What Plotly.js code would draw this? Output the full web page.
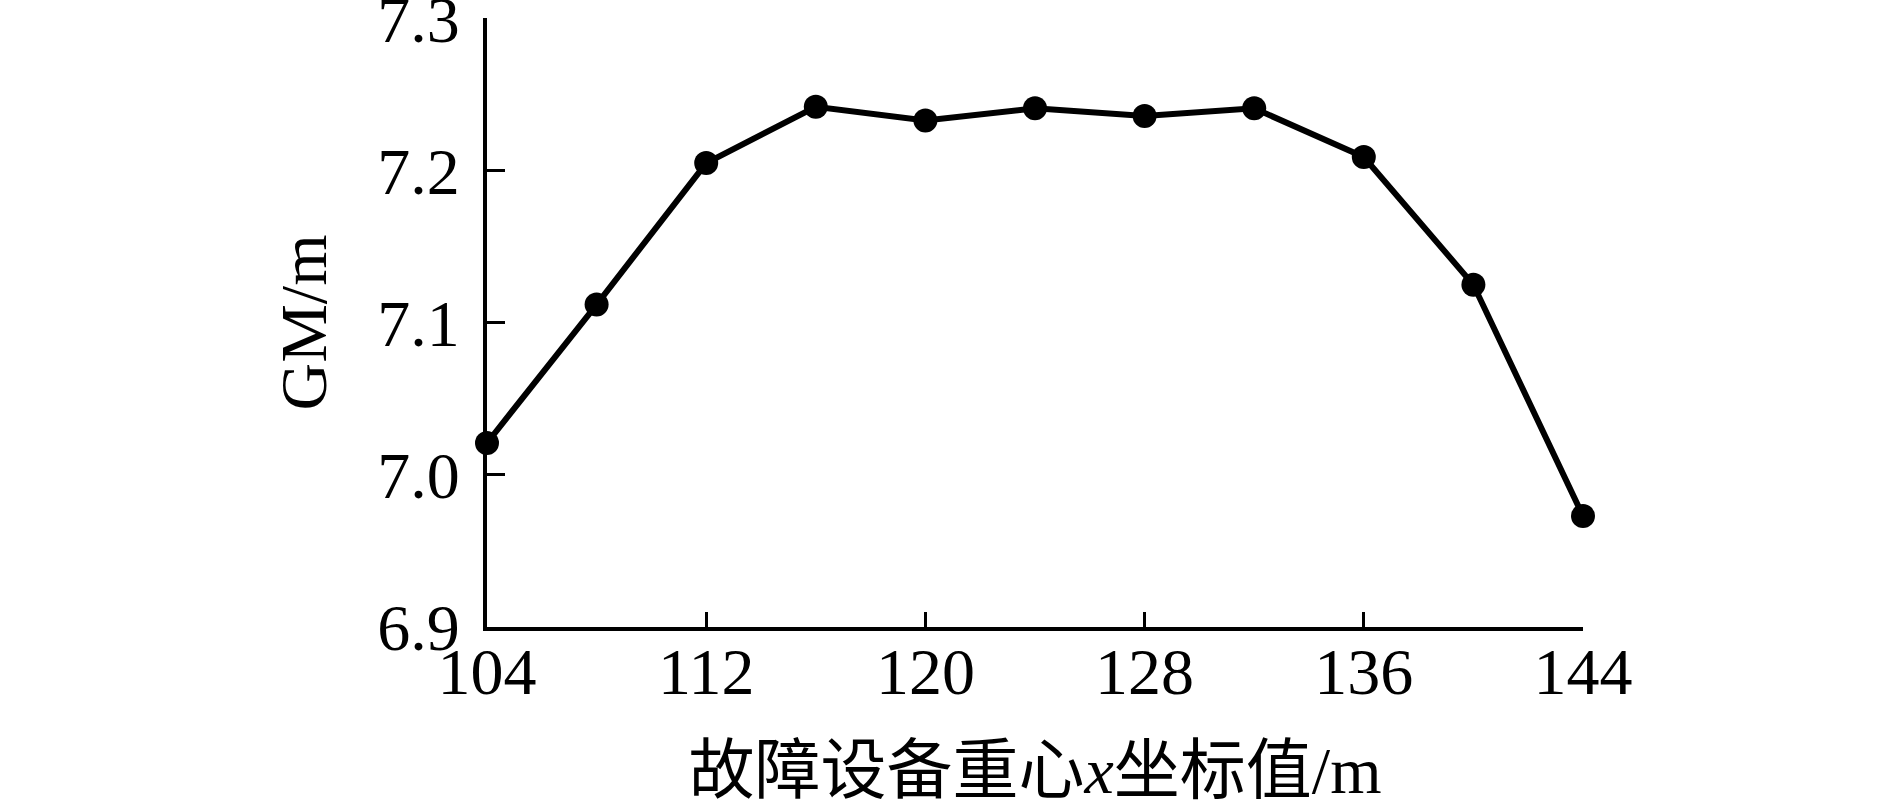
<!DOCTYPE html>
<html>
<head>
<meta charset="utf-8">
<script src="https://cdn.plot.ly/plotly-3.0.1.min.js"></script>
<style>
  html, body { margin: 0; padding: 0; background: #fff; }
  #chart { width: 1890px; height: 807px; }
</style>
</head>
<body>
<div id="chart"></div>
<script>
// x position of the faulty equipment's centre of gravity (m) and GM (m)
const xPos = [104, 108, 112, 116, 120, 124, 128, 132, 136, 140, 144];
const gmValues = [7.021, 7.112, 7.205, 7.242, 7.233, 7.241, 7.236, 7.241, 7.209, 7.125, 6.973];

const xTicks = [104, 112, 120, 128, 136, 144];
const yTicks = [6.9, 7.0, 7.1, 7.2, 7.3];
const yTickText = ['6.9', '7.0', '7.1', '7.2', '7.3'];

const serif = '"Liberation Serif", "Times New Roman", "Noto Sans CJK SC", serif';

const trace = {
    x: xPos,
    y: gmValues,
    mode: 'lines+markers',
    type: 'scatter',
    line: { color: '#000', width: 6 },
    marker: { color: '#000', size: 24 },
    cliponaxis: false,
    showlegend: false
};

const layout = {
    width: 1890,
    height: 807,
    margin: { l: 487, r: 307, t: 18, b: 180 },
    paper_bgcolor: '#fff',
    plot_bgcolor: '#fff',
    font: { family: serif, color: '#000', size: 66 },
    xaxis: {
        range: [104, 144],
        tickvals: xTicks,
        ticks: 'inside',
        ticklen: 15,
        tickwidth: 3,
        tickcolor: '#000',
        showline: true,
        linewidth: 4,
        linecolor: '#000',
        showgrid: false,
        zeroline: false,
        ticklabelstandoff: -16,
        ticklabeloverflow: 'allow',
        tickfont: { family: serif, size: 66, color: '#000' },
        title: {
            text: '故障设备重心<i>x</i>坐标值/m',
            font: { family: serif, size: 66, color: '#000' },
            standoff: 52
        }
    },
    yaxis: {
        range: [6.9, 7.3004],
        tickvals: yTicks,
        ticktext: yTickText,
        ticks: 'inside',
        ticklen: 18,
        tickwidth: 3,
        tickcolor: '#000',
        showline: true,
        linewidth: 4,
        linecolor: '#000',
        showgrid: false,
        zeroline: false,
        ticklabelstandoff: 10,
        ticklabeloverflow: 'allow',
        tickfont: { family: serif, size: 66, color: '#000' },
        title: {
            text: 'GM/m',
            font: { family: serif, size: 66, color: '#000' },
            standoff: 30
        }
    }
};

Plotly.newPlot('chart', [trace], layout, { staticPlot: true });
</script>
</body>
</html>
